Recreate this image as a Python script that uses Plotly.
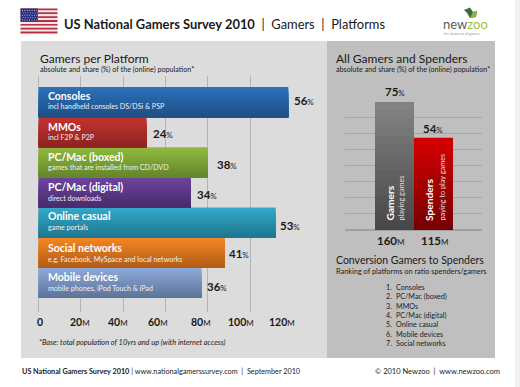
import plotly.graph_objects as go

W, H = 520, 387
FONT = "Lato"

# ---- data ----
platforms = ["Consoles", "MMOs", "PC/Mac (boxed)", "PC/Mac (digital)", "Online casual", "Social networks", "Mobile devices"]
platform_notes = ["incl handheld consoles DS/DSi & PSP", "incl F2P & P2P", "games that are installed from CD/DVD",
                  "direct downloads", "game portals", "e.g. Facebook, MySpace and local networks",
                  "mobile phones, iPod Touch & iPad"]
gamers_millions = [118, 51, 80, 72, 112, 88, 77]
share_pct = [56, 24, 38, 34, 53, 41, 36]
tick_values = [0, 20, 40, 60, 80, 100, 120]
tick_labels = ["0", "20", "40", "60", "80", "100", "120"]

groups = ["Gamers", "Spenders"]
group_notes = ["playing games", "paying to play games"]
group_millions = [160, 115]
group_share = [75, 54]
group_ticks = [0, 20, 40, 60, 80, 100, 120, 140, 160]

ranking = ["Consoles", "PC/Mac (boxed)", "MMOs", "PC/Mac (digital)", "Online casual", "Mobile devices", "Social networks"]

# ---- styles ----
top_colors = ["#2b70b8", "#c2332f", "#8fb93e", "#6d429e", "#33a8c8", "#f38522", "#8ba8d8"]
bot_colors = ["#1f4f86", "#8e2422", "#64862b", "#4a2c6c", "#1f7790", "#b35d14", "#5d7599"]
group_top = ["#828282", "#d40000"]
group_bot = ["#484848", "#780000"]
value_x = [294, 152.5, 217, 197, 280, 229, 207]
value_y = [101, 133, 164.5, 194, 225, 253, 286]
tick_x = [39.7, 80, 118, 158, 201, 241, 282]
TEXT = "#1a1a1a"
N = 15


def mix(a, b, t):
    pa = [int(a[i:i + 2], 16) for i in (1, 3, 5)]
    pb = [int(b[i:i + 2], 16) for i in (1, 3, 5)]
    return "rgb(%d,%d,%d)" % tuple(round(p + (q - p) * t) for p, q in zip(pa, pb))


def px(x):
    return x / W


def py(y):
    return 1 - y / H


def dom_y(top, bottom):
    return [py(bottom), py(top)]


fig = go.Figure()

# Left chart: nested bars, each one covering the lower part of the previous, give the vertical gradient
for k in range(N):
    t = k / (N - 1)
    fig.add_trace(go.Bar(
        x=gamers_millions, y=list(range(len(platforms))), orientation="h",
        width=(N - k) / N, offset=-0.5 + k / N,
        marker=dict(color=[mix(a, b, t) for a, b in zip(top_colors, bot_colors)], line=dict(width=0)),
        xaxis="x", yaxis="y", showlegend=False, hoverinfo="skip"))

# Right chart: nested bars shrinking from the full value
for k in range(N):
    t = k / (N - 1)
    fig.add_trace(go.Bar(
        x=list(range(len(groups))),
        y=[v * (N - k) / N for v in group_millions],
        width=1.0,
        marker=dict(color=[mix(a, b, t) for a, b in zip(group_top, group_bot)], line=dict(width=0)),
        xaxis="x2", yaxis="y2", showlegend=False, hoverinfo="skip"))

shapes = [
    dict(type="rect", xref="paper", yref="paper", x0=px(21), x1=px(327), y0=py(358), y1=py(41),
         fillcolor="#dcdcdc", line_width=0, layer="below"),
    dict(type="rect", xref="paper", yref="paper", x0=px(327), x1=px(495), y0=py(358), y1=py(41),
         fillcolor="#bfbfbf", line_width=0, layer="below"),
    dict(type="rect", xref="paper", yref="paper", x0=px(515), x1=1, y0=0, y1=1,
         fillcolor="#f0f0f0", line_width=0, layer="below"),
]

# Flag
fx0, fx1, fy0, fy1 = 20.5, 57.5, 8.5, 33.5
for i in range(13):
    h = (fy1 - fy0) / 13
    shapes.append(dict(type="rect", xref="paper", yref="paper", x0=px(fx0), x1=px(fx1),
                       y0=py(fy0 + h * (i + 1)), y1=py(fy0 + h * i),
                       fillcolor="#b92f42" if i % 2 == 0 else "#f4e9e9", line_width=0, layer="below"))
shapes.append(dict(type="rect", xref="paper", yref="paper", x0=px(fx0), x1=px(38), y0=py(21.5), y1=py(fy0),
                   fillcolor="#2c2f7c", line_width=0, layer="below"))
for r in range(5):
    for c in range(7):
        sx = fx0 + 1.5 + c * 2.4 + (r % 2) * 0.8
        sy = fy0 + 1.5 + r * 2.4
        shapes.append(dict(type="rect", xref="paper", yref="paper", x0=px(sx), x1=px(sx + 0.9),
                           y0=py(sy + 0.9), y1=py(sy), fillcolor="#c9cbe6", line_width=0, layer="below"))


def poly(points, color):
    d = "M " + " L ".join("%.4f %.4f" % (px(x), py(y)) for x, y in points) + " Z"
    return dict(type="path", xref="paper", yref="paper", path=d, fillcolor=color, line_width=0, layer="below")


# Logo leaf
shapes.append(poly([(464, 10), (470, 7.5), (473, 12), (477, 11), (476, 17), (470, 18), (467, 13)], "#3d6b45"))
shapes.append(poly([(470, 18), (476, 17), (477, 11), (473, 12)], "#8db63c"))

ann = []


def text(x, y, s, size, color=TEXT, anchor="left", bold=False, angle=0, yanchor="middle"):
    if bold:
        s = "<b>%s</b>" % s
    ann.append(dict(xref="paper", yref="paper", x=px(x), y=py(y), text=s, showarrow=False,
                    xanchor=anchor, yanchor=yanchor, textangle=angle, borderpad=0, borderwidth=0,
                    font=dict(family=FONT, size=size, color=color)))


def val(num, unit):
    return "<b>%s</b><span style='font-size:8px'>%s</span>" % (num, unit)


text(64, 24, "<b>US National Gamers Survey 2010</b>  |  Gamers  |  Platforms", 12.9)
text(443, 24, "new<span style='color:#9bc23e'>zoo</span>", 13, "#5a5a5a")
text(444, 33.5, "the business of games", 3.7, "#999999")

text(40, 58, "Gamers per Platform", 12)
text(40, 70, "absolute and share (%) of the (online) population*", 7.2)

bar_ys = [96, 126.5, 156.5, 187, 216, 248, 276.5]
note_ys = [106.5, 137.5, 167.5, 198, 227.5, 259.5, 288]
for name, note, ny, ty, v, vx, vy in zip(platforms, platform_notes, note_ys, bar_ys, share_pct, value_x, value_y):
    text(47.5, ty, name, 10.5, "#ffffff", bold=True)
    text(47.5, ny, note, 7.1, "#f0f0f0")
    text(vx, vy, val(v, "%"), 11.5)

for lab, x in zip(tick_labels, tick_x):
    text(x, 322, val(lab, "M") if lab != "0" else "<b>0</b>", 10.5, anchor="center")

text(39, 342, "<i>*Base: total population of 10yrs and up (with internet access)</i>", 7.4)
text(21.5, 371, "<b>US National Gamers Survey 2010</b> | www.nationalgamerssurvey.com  |  September 2010", 7.25, "#222222")
text(375, 371, "© 2010 Newzoo  |  www.newzoo.com", 7.5, "#222222")

text(336, 58, "All Gamers and Spenders", 12)
text(336, 70, "absolute and share (%) of the (online) population*", 7.2)

for g, note, m, s, sx, sy, mx, gx, nx in zip(groups, group_notes, group_millions, group_share,
                                             [394.5, 433], [91, 128.5], [390.7, 434.7], [389, 429], [401, 442]):
    text(sx, sy, val(s, "%"), 11.5, anchor="center")
    text(mx, 241, val(m, "M"), 11.5, anchor="center")
    text(gx, 221, g, 10.2, "#ffffff", bold=True, angle=-90, anchor="center", yanchor="bottom")
    text(nx, 221, note, 7.3, "#dddddd", angle=-90, anchor="center", yanchor="bottom")

text(336, 260, "Conversion Gamers to Spenders", 10.5)
text(336, 271.5, "Ranking of platforms on ratio spenders/gamers", 7.35)
rank_y = [287, 296.7, 306, 315.3, 324.7, 334.3, 343.7]
for i, (r, y) in enumerate(zip(ranking, rank_y)):
    text(386, y, "%d." % (i + 1), 7.2, "#222222")
    text(395.5, y, r, 7.2, "#222222")

# Axis geometry, pixel-aligned with the panels
n = len(platforms)
band = (298 - 87) / n
y_range = [n - 0.5 + (312 - 298) / band, -0.5 - (87 - 76) / band]
cat = 39.0
x2_range = [-0.5 - (375 - 345) / cat, 1.5 + (482 - 453) / cat]

fig.update_layout(
    width=W, height=H, margin=dict(l=0, r=0, t=0, b=0, pad=0, autoexpand=False),
    paper_bgcolor="#ffffff", plot_bgcolor="rgba(0,0,0,0)",
    barmode="overlay", showlegend=False, shapes=shapes, annotations=ann,
    font=dict(family=FONT),
    xaxis=dict(domain=[px(38.5), px(292.5)], range=[0, 120], tickvals=tick_values, showticklabels=False,
               showgrid=True, gridcolor="#b4b4b4", gridwidth=1, zeroline=True, zerolinecolor="#b4b4b4",
               zerolinewidth=1, ticks="", showline=False, anchor="y", fixedrange=True),
    yaxis=dict(domain=dom_y(76, 312), range=y_range, showticklabels=False, showgrid=False, zeroline=False,
               ticks="", anchor="x", fixedrange=True),
    xaxis2=dict(domain=[px(345), px(482)], range=x2_range, showticklabels=False, showgrid=False,
                zeroline=False, ticks="", anchor="y2", fixedrange=True),
    yaxis2=dict(domain=dom_y(101.7, 230), range=[0, 160], tickvals=group_ticks, showticklabels=False,
                showgrid=True, gridcolor="#a6a6a6", gridwidth=1, zeroline=True, zerolinecolor="#a0a0a0",
                ticks="", anchor="x2", fixedrange=True),
)

fig.write_html("out.html", config={"displayModeBar": False},
               post_script="document.body.style.margin='0';document.body.style.overflow='hidden';")
